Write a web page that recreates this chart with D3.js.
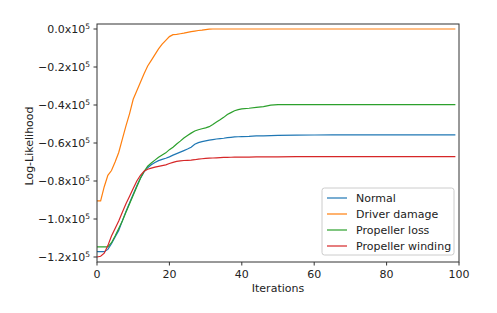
<!DOCTYPE html>
<html>
<head>
<meta charset="utf-8">
<script src="https://cdn.jsdelivr.net/npm/d3@7"></script>
<style>
  body { margin: 0; background: #fff; }
  svg text { font-family: "DejaVu Sans", sans-serif; fill: #222; }
</style>
</head>
<body>
<div id="chart-area"></div>
<script>
// values are in units of 1e5
var iterations = [0,1,2,3,4,5,6,7,8,9,10,11,12,13,14,15,16,17,18,19,20,21,22,23,24,25,26,27,28,29,30,
    31,32,33,34,35,36,37,38,39,40,42,44,46,48,50,55,60,65,70,75,80,85,90,95,99];

var normal = [-1.172,-1.172,-1.172,-1.16,-1.13,-1.095,-1.06,-1.01,-0.96,-0.915,-0.87,-0.825,-0.785,-0.752,
    -0.73,-0.715,-0.703,-0.693,-0.686,-0.68,-0.673,-0.664,-0.656,-0.648,-0.64,-0.632,-0.622,-0.607,-0.598,
    -0.593,-0.589,-0.585,-0.582,-0.579,-0.577,-0.575,-0.572,-0.57,-0.568,-0.567,-0.566,
    -0.565,-0.563,-0.562,-0.561,-0.56,
    -0.559,-0.558,-0.557,-0.557,-0.557,-0.557,-0.557,-0.557,-0.557,-0.557];

var driverDamage = [-0.905,-0.905,-0.83,-0.77,-0.745,-0.70,-0.65,-0.58,-0.51,-0.445,-0.37,-0.325,-0.28,
    -0.235,-0.195,-0.165,-0.135,-0.105,-0.08,-0.06,-0.04,-0.03,-0.028,-0.025,-0.022,-0.018,-0.014,-0.011,
    -0.008,-0.006,-0.003,-0.001,0,0,0,0,0,0,0,0,0,
    0,0,0,0,0,
    0,0,0,0,0,0,0,0,0,0];

var propellerLoss = [-1.147,-1.147,-1.147,-1.147,-1.125,-1.09,-1.05,-1.01,-0.965,-0.92,-0.875,-0.83,-0.785,
    -0.75,-0.722,-0.705,-0.69,-0.675,-0.663,-0.652,-0.635,-0.622,-0.605,-0.59,-0.574,-0.56,-0.548,-0.537,
    -0.53,-0.525,-0.52,-0.514,-0.503,-0.49,-0.478,-0.465,-0.45,-0.44,-0.43,-0.424,-0.42,
    -0.417,-0.413,-0.409,-0.401,-0.398,
    -0.398,-0.398,-0.398,-0.398,-0.398,-0.398,-0.398,-0.398,-0.398,-0.398];

var propellerWinding = [-1.2,-1.196,-1.18,-1.14,-1.09,-1.05,-1.01,-0.965,-0.92,-0.88,-0.84,-0.8,-0.77,
    -0.748,-0.738,-0.732,-0.727,-0.723,-0.719,-0.715,-0.708,-0.702,-0.697,-0.694,-0.692,-0.691,-0.69,-0.688,
    -0.685,-0.683,-0.681,-0.68,-0.679,-0.678,-0.677,-0.676,-0.676,-0.675,-0.674,-0.674,-0.674,
    -0.674,-0.673,-0.673,-0.673,-0.673,
    -0.672,-0.672,-0.672,-0.672,-0.672,-0.672,-0.672,-0.672,-0.672,-0.672];

var seriesNames = ["Normal", "Driver damage", "Propeller loss", "Propeller winding"];
var seriesValues = [normal, driverDamage, propellerLoss, propellerWinding];
var colors = ["#1f77b4", "#ff7f0e", "#2ca02c", "#d62728"];
var xTicks = [0, 20, 40, 60, 80, 100];
var yTicks = [0, -0.2, -0.4, -0.6, -0.8, -1.0, -1.2];

var width = 497, height = 313;
var plotLeft = 97, plotRight = 459, plotTop = 24, plotBottom = 262;

var svg = d3.select("#chart-area").append("svg")
    .attr("width", width)
    .attr("height", height);

var x = d3.scaleLinear().domain([0, 100]).range([plotLeft, plotRight]);
var y = d3.scaleLinear().domain([-1.2, 0]).range([257, 29]);

// lines
var line = d3.line()
    .x(function(d, i) { return x(iterations[i]); })
    .y(function(d) { return y(d); });

var plot = svg.append("g");
seriesValues.forEach(function(vals, k) {
    plot.append("path")
        .datum(vals)
        .attr("d", line)
        .attr("fill", "none")
        .attr("stroke", colors[k])
        .attr("stroke-width", 1.2);
});

// frame
svg.append("rect")
    .attr("x", plotLeft).attr("y", plotTop)
    .attr("width", plotRight - plotLeft).attr("height", plotBottom - plotTop)
    .attr("fill", "none")
    .attr("stroke", "#333")
    .attr("stroke-width", 1);

// x axis
var xAxis = svg.append("g").attr("transform", "translate(0," + plotBottom + ")");
xTicks.forEach(function(t) {
    xAxis.append("line")
        .attr("x1", x(t)).attr("x2", x(t))
        .attr("y1", 0).attr("y2", 3.5)
        .attr("stroke", "#333");
    xAxis.append("text")
        .attr("x", x(t)).attr("y", 16)
        .attr("text-anchor", "middle")
        .attr("font-size", "11px")
        .text(t);
});

// y axis
var yAxis = svg.append("g");
yTicks.forEach(function(t) {
    yAxis.append("line")
        .attr("x1", plotLeft - 3.5).attr("x2", plotLeft)
        .attr("y1", y(t)).attr("y2", y(t))
        .attr("stroke", "#333");
    var lbl = yAxis.append("text")
        .attr("x", plotLeft - 7).attr("y", y(t) + 4)
        .attr("text-anchor", "end")
        .attr("font-size", "11px");
    var s = (t === 0 ? "0.0" : "\u2212" + Math.abs(t).toFixed(1)) + "x10";
    lbl.append("tspan").text(s);
    lbl.append("tspan").attr("font-size", "7.5px").attr("dy", -4.5).text("5");
});

svg.append("text")
    .attr("x", (plotLeft + plotRight) / 2).attr("y", 292)
    .attr("text-anchor", "middle")
    .attr("font-size", "11px")
    .text("Iterations");

svg.append("text")
    .attr("transform", "translate(33,146) rotate(-90)")
    .attr("text-anchor", "middle")
    .attr("font-size", "11px")
    .text("Log-Likelihood");

// legend
var legend = svg.append("g").attr("transform", "translate(322,188)");
legend.append("rect")
    .attr("width", 132).attr("height", 67)
    .attr("rx", 2.5)
    .attr("fill", "#fff")
    .attr("fill-opacity", 0.8)
    .attr("stroke", "#ccc");
seriesNames.forEach(function(name, k) {
    var yy = 10 + k * 16;
    legend.append("line")
        .attr("x1", 5).attr("x2", 25)
        .attr("y1", yy).attr("y2", yy)
        .attr("stroke", colors[k])
        .attr("stroke-width", 1.2);
    legend.append("text")
        .attr("x", 34).attr("y", yy + 4)
        .attr("font-size", "11px")
        .text(name);
});
</script>
</body>
</html>
